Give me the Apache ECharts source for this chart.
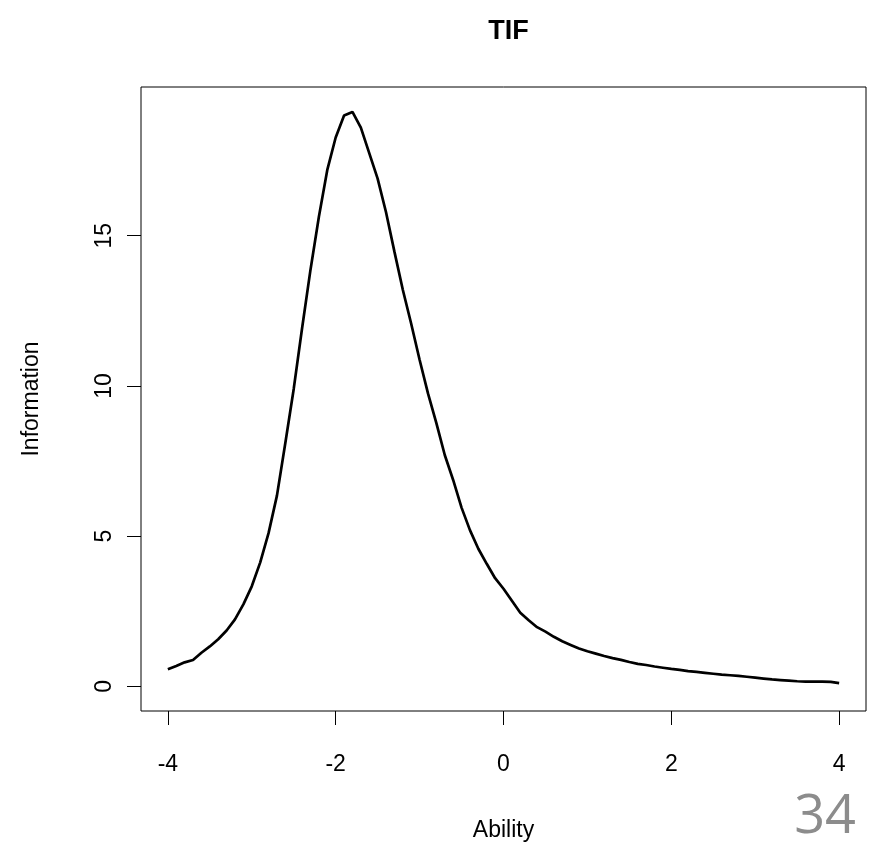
<!DOCTYPE html>
<html>
<head>
<meta charset="utf-8">
<script src="https://cdn.jsdelivr.net/npm/echarts@6/dist/echarts.min.js"></script>
<style>html,body{margin:0;padding:0;background:#fff;}#c{width:869px;height:844px;}</style>
</head>
<body>
<div id="c"></div>
<script>
var ability = [-4.0,-3.9,-3.8,-3.7,-3.6,-3.5,-3.4,-3.3,-3.2,-3.1,-3.0,-2.9,-2.8,-2.7,-2.6,-2.5,-2.4,-2.3,-2.2,-2.1,-2.0,-1.9,-1.8,-1.7,-1.6,-1.5,-1.4,-1.3,-1.2,-1.1,-1.0,-0.9,-0.8,-0.7,-0.6,-0.5,-0.4,-0.3,-0.2,-0.1,0.0,0.1,0.2,0.3,0.4,0.5,0.6,0.7,0.8,0.9,1.0,1.1,1.2,1.3,1.4,1.5,1.6,1.7,1.8,1.9,2.0,2.1,2.2,2.3,2.4,2.5,2.6,2.7,2.8,2.9,3.0,3.1,3.2,3.3,3.4,3.5,3.6,3.7,3.8,3.9,4.0];
var information = [0.57,0.68,0.80,0.88,1.12,1.33,1.57,1.86,2.23,2.73,3.33,4.12,5.10,6.35,8.10,9.90,11.93,13.87,15.63,17.19,18.27,19.00,19.12,18.60,17.75,16.90,15.78,14.47,13.20,12.07,10.87,9.75,8.76,7.70,6.87,5.95,5.20,4.58,4.08,3.60,3.25,2.85,2.45,2.20,1.97,1.82,1.65,1.50,1.38,1.26,1.17,1.09,1.01,0.94,0.88,0.81,0.75,0.71,0.66,0.62,0.58,0.55,0.51,0.48,0.45,0.42,0.39,0.37,0.35,0.32,0.29,0.26,0.23,0.21,0.19,0.17,0.16,0.16,0.16,0.15,0.11];
var xTicks = [-4,-2,0,2,4];
var yTicks = [0,5,10,15];

var pts = ability.map(function(a,i){return [a, information[i]];});
var font = 'Liberation Sans, Arial, sans-serif';
var chart = echarts.init(document.getElementById('c'), null, {renderer:'canvas'});
chart.setOption({
  animation: false,
  backgroundColor: '#fff',
  title: [
    {text: 'TIF', left: 503.5, top: 13, textAlign: 'center',
     textStyle: {fontFamily: font, fontWeight: 'bold', fontSize: 27, color: '#000'}},
    {text: '34', right: 8, bottom: -6,
     textStyle: {fontFamily: 'Open Sans, DejaVu Sans, sans-serif', fontWeight: 'normal', fontSize: 54, color: '#8c8c8c'}}
  ],
  grid: {left: 141, right: 3, top: 87, bottom: 133, show: true, borderColor: '#000', borderWidth: 1, backgroundColor: 'transparent', outerBoundsMode: 'none', containLabel: false},
  xAxis: {
    type: 'value', min: -4.32, max: 4.32,
    name: 'Ability', nameLocation: 'middle', nameGap: 108,
    nameTextStyle: {fontFamily: font, fontSize: 23, color: '#000'},
    axisLine: {show: false, onZero: false},
    splitLine: {show: false},
    axisTick: {show: true, length: 14, customValues: xTicks, lineStyle: {color: '#000', width: 1}},
    axisLabel: {customValues: xTicks, margin: 42, fontFamily: font, fontSize: 23, color: '#000'}
  },
  yAxis: {
    type: 'value', min: -0.82, max: 19.95,
    name: 'Information', nameLocation: 'middle', nameGap: 98,
    nameTextStyle: {fontFamily: font, fontSize: 23, color: '#000'},
    axisLine: {show: false, onZero: false},
    splitLine: {show: false},
    axisTick: {show: true, length: 14, customValues: yTicks, lineStyle: {color: '#000', width: 1}},
    axisLabel: {customValues: yTicks, rotate: 90, margin: 25, fontFamily: font, fontSize: 23, color: '#000'}
  },
  series: [{
    type: 'line', data: pts, showSymbol: false, smooth: false,
    lineStyle: {color: '#000', width: 2.7}, silent: true
  }]
});
</script>
</body>
</html>
